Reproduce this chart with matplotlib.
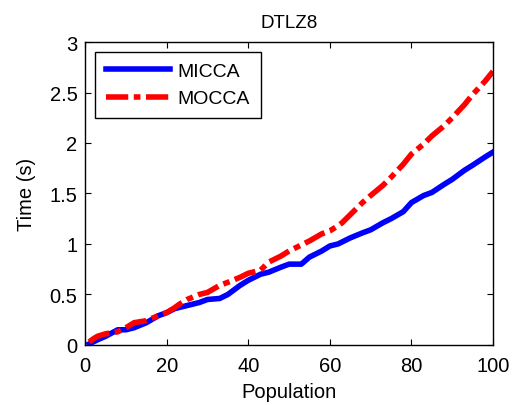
import matplotlib
matplotlib.use("Agg")
import matplotlib.pyplot as plt

plt.rcParams['font.family'] = ['Liberation Sans', 'DejaVu Sans']

# === DATA ===
pop = [1, 2, 3, 5, 8, 10, 12, 15, 18, 20, 22, 23, 25, 28, 30, 33, 35, 38, 40, 43, 45,
       48, 50, 53, 55, 58, 60, 62, 63, 65, 68, 70, 73, 75, 78, 80, 83, 85, 88,
       90, 93, 95, 98, 100]
micca = [0.01, 0.03, 0.05, 0.085, 0.15, 0.15, 0.17, 0.22, 0.29, 0.32, 0.36, 0.37, 0.39,
         0.42, 0.45, 0.46, 0.50, 0.59, 0.64, 0.70, 0.72, 0.77, 0.80, 0.80, 0.87,
         0.93, 0.98, 1.00, 1.02, 1.06, 1.11, 1.14, 1.21, 1.25, 1.32, 1.41, 1.48,
         1.51, 1.59, 1.64, 1.73, 1.78, 1.86, 1.91]
mocca = [0.03, 0.06, 0.085, 0.11, 0.13, 0.17, 0.22, 0.24, 0.29, 0.32, 0.37, 0.40, 0.45,
         0.50, 0.52, 0.59, 0.62, 0.67, 0.71, 0.74, 0.82, 0.88, 0.93, 0.99, 1.03,
         1.10, 1.13, 1.18, 1.21, 1.29, 1.41, 1.48, 1.58, 1.66, 1.79, 1.89, 1.99,
         2.07, 2.17, 2.25, 2.38, 2.48, 2.61, 2.71]

# === PLOT ===
fig = plt.figure(figsize=(5.19, 4.06), dpi=100)
ax = fig.add_axes([0.164, 0.148, 0.786, 0.746])

ax.plot(pop, micca, color='blue', linewidth=4, label='MICCA')
ax.plot(pop, mocca, color='red', linewidth=4, linestyle=(0, (4, 1, 1.2, 1)),
        label='MOCCA')

ax.set_xlim(0, 100)
ax.set_ylim(0, 3)
ax.set_xticks([0, 20, 40, 60, 80, 100])
ax.set_yticks([0, 0.5, 1, 1.5, 2, 2.5, 3])
ax.set_yticklabels(['0', '0.5', '1', '1.5', '2', '2.5', '3'])
ax.tick_params(direction='in', top=True, right=True, length=4, labelsize=14.5, width=0.8)
ax.tick_params(axis='x', pad=8)
ax.tick_params(axis='y', pad=5.5)
for s in ax.spines.values():
    s.set_linewidth(1)

ax.set_title('DTLZ8', fontsize=13.5, pad=11)
ax.set_xlabel('Population', fontsize=14.5, labelpad=5)
ax.set_ylabel('Time (s)', fontsize=14.5, labelpad=10)

leg = ax.legend(loc='upper left', bbox_to_anchor=(0.024, 0.968), fontsize=14,
                fancybox=False, edgecolor='black', framealpha=1,
                handlelength=3.3, borderpad=0.55, labelspacing=0.5, handletextpad=0.4,
                borderaxespad=0)
leg.get_frame().set_linewidth(1)

plt.savefig('out.png', dpi=100)
